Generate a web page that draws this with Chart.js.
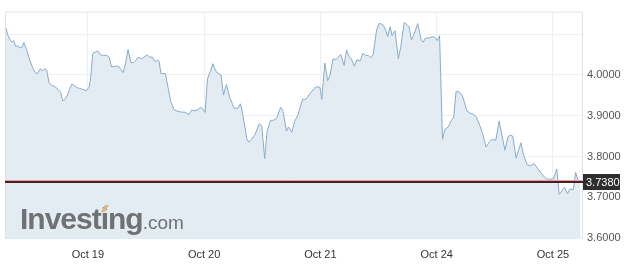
<!DOCTYPE html>
<html>
<head>
<meta charset="utf-8">
<script src="https://cdn.jsdelivr.net/npm/chart.js@4.4.0/dist/chart.umd.min.js"></script>
<style>
html, body { margin: 0; padding: 0; background: #fff; }
#wrap { width: 637px; height: 269px; position: relative; }
</style>
</head>
<body>
<div id="wrap"><canvas id="rate-chart"></canvas></div>
<script>
// Day ticks on the (trading-time) hour axis
const dayLabels = ['Oct 19', 'Oct 20', 'Oct 21', 'Oct 24', 'Oct 25'];
const dayTicks = [0, 24, 48, 72, 96];
const priceTicks = [3.6, 3.7, 3.8, 3.9, 4.0, 4.1];

// Hours from Oct 19 open, and the rate at that time
const hours = [
    -16.9, -16.5, -16.0, -15.6, -15.3, -14.9, -14.4, -14.0, -13.6, -13.2,
    -12.7, -12.0, -11.3, -10.7, -10.3, -9.8, -9.4, -8.9, -8.5, -8.0,
    -7.5, -6.8, -6.1, -5.6, -5.2, -4.8, -4.3, -3.7, -3.3, -2.9,
    -2.3, -1.7, -1.0, -0.3, 0.3, 0.6, 1.0, 1.5, 2.1, 2.6,
    3.2, 3.9, 4.4, 4.9, 5.6, 6.3, 6.8, 7.3, 7.9, 8.3,
    8.9, 9.4, 9.9, 10.5, 11.1, 11.6, 12.2, 12.7, 13.3, 13.8,
    14.4, 14.7, 15.1, 16.0, 16.6, 17.1, 17.8, 18.6, 19.3, 20.0,
    20.9, 21.4, 22.1, 22.7, 23.2, 23.6, 24.2, 24.7, 25.3, 25.8,
    26.2, 26.6, 27.5, 28.0, 28.6, 29.3, 30.2, 30.6, 31.0, 31.5,
    31.9, 32.4, 32.8, 33.2, 33.8, 34.5, 35.4, 35.9, 36.5, 37.0,
    37.7, 38.3, 39.0, 39.8, 40.3, 41.0, 41.4, 42.1, 42.7, 43.4,
    44.3, 45.0, 45.8, 46.7, 47.3, 47.9, 48.3, 48.9, 49.5, 50.0,
    50.6, 51.2, 51.7, 52.2, 52.9, 53.4, 54.0, 54.4, 55.0, 55.5,
    56.2, 56.8, 57.3, 57.9, 58.4, 58.9, 59.6, 60.1, 60.8, 61.3,
    61.9, 62.4, 62.8, 63.4, 64.1, 64.6, 65.3, 65.9, 66.3, 66.8,
    67.4, 68.1, 68.8, 69.2, 69.7, 70.4, 71.1, 71.6, 72.1, 72.6,
    73.2, 73.7, 74.4, 75.1, 75.5, 76.0, 76.6, 77.3, 77.8, 78.2,
    78.9, 79.5, 80.1, 80.8, 81.5, 82.2, 82.9, 83.4, 84.2, 84.9,
    85.6, 86.1, 86.7, 87.1, 87.7, 88.4, 88.9, 89.4, 90.0, 90.7,
    91.4, 92.1, 92.8, 93.7, 94.6, 95.4, 96.1, 96.8, 97.3, 97.9,
    98.4, 99.0, 99.5, 100.2, 100.7, 101.2, 101.7
];
const rates = [
    4.1144, 4.0968, 4.0847, 4.0799, 4.0840, 4.0702, 4.0702, 4.0661, 4.0678, 4.0791,
    4.0636, 4.0363, 4.0152, 4.0031, 4.0048, 4.0152, 4.0097, 4.0145, 4.0114, 3.9806,
    3.9751, 3.9710, 3.9644, 3.9564, 3.9364, 3.9388, 3.9485, 3.9668, 3.9775, 3.9751,
    3.9693, 3.9668, 3.9644, 3.9613, 3.9710, 3.9952, 4.0515, 4.0557, 4.0581, 4.0491,
    4.0477, 4.0477, 4.0436, 4.0194, 4.0211, 4.0218, 4.0138, 4.0056, 4.0356, 4.0622,
    4.0298, 4.0298, 4.0356, 4.0436, 4.0394, 4.0436, 4.0491, 4.0436, 4.0436, 4.0332,
    4.0356, 4.0332, 4.0031, 4.0031, 3.9668, 3.9347, 3.9146, 3.9105, 3.9088, 3.9088,
    3.9025, 3.9136, 3.9122, 3.9146, 3.9201, 3.9184, 3.9080, 3.9910, 4.0090, 4.0273,
    4.0152, 4.0056, 3.9993, 3.9509, 3.9765, 3.9443, 3.9184, 3.9184, 3.9184, 3.9291,
    3.9080, 3.8742, 3.8434, 3.8354, 3.8420, 3.8541, 3.8807, 3.8742, 3.7950, 3.8621,
    3.8887, 3.8887, 3.8942, 3.9209, 3.9097, 3.8621, 3.8725, 3.8596, 3.8863, 3.9025,
    3.9402, 3.9402, 3.9533, 3.9668, 3.9710, 3.9693, 3.9402, 4.0290, 3.9855, 3.9993,
    4.0394, 4.0370, 4.0436, 4.0501, 4.0235, 4.0612, 4.0419, 4.0394, 4.0211, 4.0370,
    4.0339, 4.0532, 4.0477, 4.0477, 4.0419, 4.0501, 4.1096, 4.1258, 4.1241, 4.1145,
    4.0937, 4.1179, 4.0961, 4.1082, 4.0394, 4.0695, 4.1283, 4.1227, 4.1179, 4.0854,
    4.1016, 4.1258, 4.0854, 4.0799, 4.0903, 4.0903, 4.0937, 4.0920, 4.0840, 4.0961,
    3.8420, 3.8662, 3.8725, 3.8904, 3.8942, 3.9589, 3.9589, 3.9485, 3.9305, 3.9122,
    3.9063, 3.9039, 3.8984, 3.8797, 3.8555, 3.8233, 3.8362, 3.8420, 3.8396, 3.8863,
    3.8444, 3.8154, 3.8475, 3.8524, 3.8500, 3.7960, 3.8154, 3.8337, 3.8016, 3.7798,
    3.7774, 3.7829, 3.7718, 3.7573, 3.7452, 3.7442, 3.7452, 3.7694, 3.7072, 3.7169,
    3.7248, 3.7089, 3.7210, 3.7186, 3.7611, 3.7411, 3.7380
];
const lastRate = 3.7380;

// Frame, last-price line + tag, and watermark
const overlayPlugin = {
    id: 'overlay',
    beforeDatasetsDraw(chart) {
        const { ctx, chartArea: a } = chart;
        ctx.save();
        ctx.strokeStyle = '#dfe3e8';
        ctx.lineWidth = 1;
        ctx.beginPath();
        ctx.moveTo(a.left + 0.5, a.bottom);
        ctx.lineTo(a.left + 0.5, a.top + 0.5);
        ctx.lineTo(a.right + 0.5, a.top + 0.5);
        ctx.lineTo(a.right + 0.5, a.bottom);
        ctx.stroke();
        ctx.restore();
    },
    afterDatasetsDraw(chart) {
        const { ctx } = chart;
        ctx.save();
        // watermark
        ctx.fillStyle = '#6f7174';
        ctx.font = 'bold 30px "Liberation Sans", Arial, sans-serif';
        ctx.letterSpacing = '-1px';
        ctx.textBaseline = 'alphabetic';
        ctx.fillText('Investing', 20, 229);
        const w = ctx.measureText('Investing').width;
        const wI = ctx.measureText('Invest').width;
        const wi = ctx.measureText('i').width;
        ctx.letterSpacing = '0px';
        ctx.font = '19px "Liberation Sans", Arial, sans-serif';
        ctx.fillText('.com', 20 + w, 229);
        // tan accent over the second "i"
        const cx = 20 + wI + wi / 2 - 0.5;
        ctx.fillStyle = '#d8b87e';
        ctx.beginPath();
        ctx.moveTo(cx - 3, 212);
        ctx.lineTo(cx + 1, 205);
        ctx.lineTo(cx + 5, 205);
        ctx.lineTo(cx + 1, 212);
        ctx.closePath();
        ctx.fill();
        ctx.restore();
    },
    afterDraw(chart) {
        const { ctx, chartArea: a } = chart;
        const y = Math.round(chart.scales.y.getPixelForValue(lastRate));
        ctx.save();
        ctx.strokeStyle = '#e9a0a0';
        ctx.lineWidth = 1;
        ctx.beginPath();
        ctx.moveTo(a.left, y - 1.5);
        ctx.lineTo(a.right, y - 1.5);
        ctx.stroke();
        ctx.strokeStyle = '#4a1f1f';
        ctx.lineWidth = 2;
        ctx.beginPath();
        ctx.moveTo(a.left, y);
        ctx.lineTo(a.right + 2, y);
        ctx.stroke();
        ctx.fillStyle = '#2e2e2e';
        ctx.fillRect(a.right + 1, y - 8, 37, 16);
        ctx.fillStyle = '#ffffff';
        ctx.font = '11px "Liberation Sans", Arial, sans-serif';
        ctx.textBaseline = 'middle';
        ctx.fillText(lastRate.toFixed(4), a.right + 4, y + 1);
        ctx.restore();
    }
};

const ctx = document.getElementById('rate-chart');
new Chart(ctx, {
    type: 'line',
    data: {
        datasets: [{
            data: hours.map((h, i) => ({ x: h, y: rates[i] })),
            borderColor: '#8aabcb',
            backgroundColor: '#e4ecf3',
            borderWidth: 1,
            pointRadius: 0,
            tension: 0,
            fill: 'start'
        }]
    },
    options: {
        responsive: true,
        maintainAspectRatio: false,
        animation: false,
        layout: { padding: { left: 5, top: 9, right: 0, bottom: 0 } },
        plugins: {
            legend: { display: false },
            tooltip: { enabled: false }
        },
        scales: {
            x: {
                type: 'linear',
                min: -17.1,
                max: 102,
                afterBuildTicks: (scale) => { scale.ticks = dayTicks.map(v => ({ value: v })); },
                afterFit: (scale) => { scale.height = 30; },
                grid: { color: '#edf0f3', drawTicks: false },
                border: { display: false },
                ticks: {
                    padding: 9,
                    maxRotation: 0,
                    color: '#333',
                    font: { family: '"Liberation Sans", Arial, sans-serif', size: 11 },
                    callback: (v) => dayLabels[dayTicks.indexOf(v)] || ''
                }
            },
            y: {
                position: 'right',
                min: 3.598,
                max: 4.155,
                afterBuildTicks: (scale) => { scale.ticks = priceTicks.map(v => ({ value: v })); },
                afterFit: (scale) => { scale.width = 55; },
                grid: { color: '#edf0f3', drawTicks: false },
                border: { display: false },
                ticks: {
                    padding: 5,
                    color: '#555',
                    font: { family: '"Liberation Sans", Arial, sans-serif', size: 11 },
                    callback: (v) => (v > 4.05 ? '' : v.toFixed(4))
                }
            }
        }
    },
    plugins: [overlayPlugin]
});
</script>
</body>
</html>
